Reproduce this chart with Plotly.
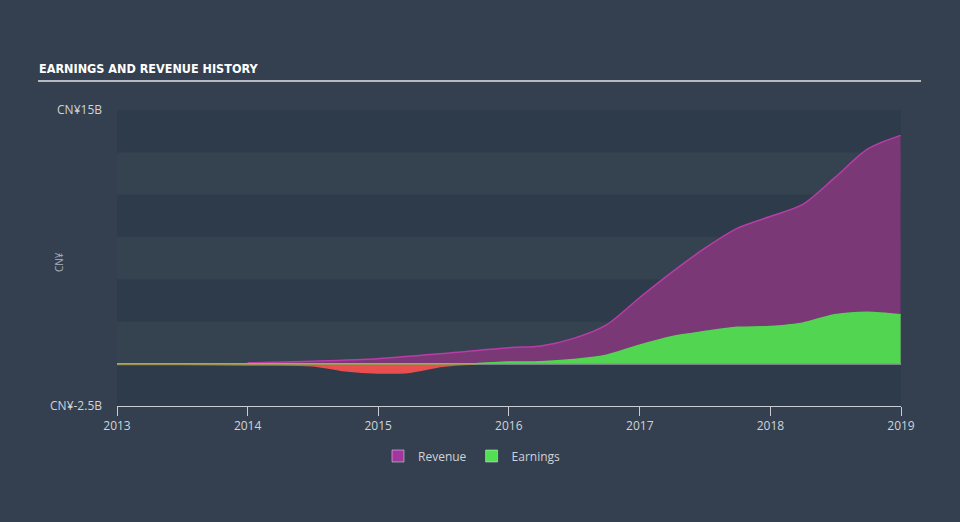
import plotly.graph_objects as go
import numpy as np

# ---- data (CNY billions) ----
rev_dates = ["2014-01-01", "2014-06-30", "2014-12-31", "2015-06-30", "2015-12-31",
             "2016-03-31", "2016-06-30", "2016-09-30", "2016-12-31", "2017-03-31",
             "2017-06-30", "2017-09-30", "2017-12-31", "2018-03-31", "2018-06-30",
             "2018-09-30", "2018-12-31"]
revenue = [0.05, 0.15, 0.3, 0.6, 0.95, 1.05, 1.5, 2.3, 3.9, 5.4, 6.8, 8.0, 8.7, 9.4,
           11.0, 12.7, 13.5]

earn_dates = ["2013-01-01", "2013-06-30", "2013-12-31", "2014-06-30", "2014-09-30",
              "2014-12-31", "2015-03-31", "2015-06-30", "2015-09-30", "2015-12-31",
              "2016-03-31", "2016-06-30", "2016-09-30", "2016-12-31", "2017-03-31",
              "2017-06-30", "2017-09-30", "2017-12-31", "2018-03-31", "2018-06-30",
              "2018-09-30", "2018-12-31"]
earnings = [-0.05, -0.05, -0.08, -0.12, -0.42, -0.55, -0.5, -0.15, -0.02, 0.1,
            0.12, 0.25, 0.5, 1.1, 1.6, 1.9, 2.15, 2.2, 2.4, 2.9, 3.05, 2.9]

year_ticks = ["2013-01-01", "2014-01-01", "2015-01-01", "2016-01-01",
              "2017-01-01", "2018-01-01", "2019-01-01"]
year_labels = ["2013", "2014", "2015", "2016", "2017", "2018", "2019"]
y_ticks = [-2.5, 15]
y_labels = ["CN¥-2.5B", "CN¥15B"]

BG = "#34404f"
DARK = "#2e3b4a"
LIGHT = "#35424f"
TXT = "#cfd3d9"

earn = np.array(earnings)
earn_pos = np.maximum(earn, 0)
earn_neg = np.where(earn <= 0, earn, np.nan)

fig = go.Figure()
fig.add_trace(go.Scatter(x=rev_dates, y=revenue, mode="lines", line=dict(color="#b83da8", width=1.5, shape="spline", smoothing=0.8),
                         fill="tozeroy", fillcolor="#7b3876", showlegend=False, hoverinfo="skip"))
fig.add_trace(go.Scatter(x=earn_dates, y=earn_neg, mode="lines", line=dict(color="#e84f4f", width=1.5, shape="spline", smoothing=0.8),
                         fill="tozeroy", fillcolor="#e84f4f", showlegend=False, hoverinfo="skip"))
fig.add_trace(go.Scatter(x=earn_dates, y=earn_pos, mode="lines", line=dict(color="#52d652", width=1.5, shape="spline", smoothing=0.8),
                         fill="tozeroy", fillcolor="#52d652", showlegend=False, hoverinfo="skip"))
# legend entries
fig.add_trace(go.Bar(x=[None], y=[None], name="Revenue", marker_color="#a3359e"))
fig.add_trace(go.Bar(x=[None], y=[None], name="Earnings", marker_color="#52e052"))

# background bands
shapes = []
lo = -2.5
i = 0
while lo < 15:
    shapes.append(dict(type="rect", xref="paper", yref="y", x0=0, x1=1, y0=lo, y1=lo + 2.5,
                       fillcolor=DARK if i % 2 == 0 else LIGHT, line=dict(width=0), layer="below"))
    lo += 2.5
    i += 1
# zero line
shapes.append(dict(type="line", xref="paper", yref="y", x0=0, x1=1, y0=0, y1=0,
                   line=dict(color="#c4c8cc", width=1.5), layer="below"))
# title underline
W, L, R, T, B = 960, 117, 59, 110, 116
pw = W - L - R
ph = 522 - T - B
def px(x):
    return (x - L) / pw
def py(y):
    return (522 - B - y) / ph
shapes.append(dict(type="line", xref="paper", yref="paper", x0=px(38), x1=px(921), y0=py(81), y1=py(81),
                   line=dict(color="#b5bac2", width=2)))

fig.update_layout(
    width=960, height=522,
    margin=dict(l=L, r=R, t=T, b=B),
    paper_bgcolor=BG, plot_bgcolor=BG,
    shapes=shapes,
    font=dict(family="Open Sans", color=TXT, size=12),
    xaxis=dict(type="date", range=["2013-01-01", "2019-01-01"], tickvals=year_ticks, ticktext=year_labels,
               showgrid=False, zeroline=False, showline=True, linecolor="#c8ccd2", linewidth=1,
               ticks="outside", ticklen=9, tickcolor="#c8ccd2", tickfont=dict(size=12, color=TXT)),
    yaxis=dict(range=[-2.5, 15], tickvals=y_ticks, ticktext=y_labels, showgrid=False, zeroline=False,
               ticks="", ticklabelstandoff=14, tickfont=dict(size=12, color=TXT)),
    legend=dict(orientation="h", xanchor="center", x=px(472), yanchor="middle", y=py(456),
                font=dict(size=12, color=TXT), bgcolor="rgba(0,0,0,0)"),
    annotations=[
        dict(text="<b>EARNINGS AND REVENUE HISTORY</b>", xref="paper", yref="paper", x=px(37), y=py(68),
             xanchor="left", yanchor="middle", showarrow=False,
             font=dict(family="DejaVu Sans Condensed, Roboto Condensed, Roboto", size=12.5, color="#ffffff")),
        dict(text="CN¥", xref="paper", yref="paper", x=px(50), y=py(262), textangle=-90,
             showarrow=False, font=dict(size=10, color="#aab2bd")),
    ],
)

fig.write_html("out.html")
